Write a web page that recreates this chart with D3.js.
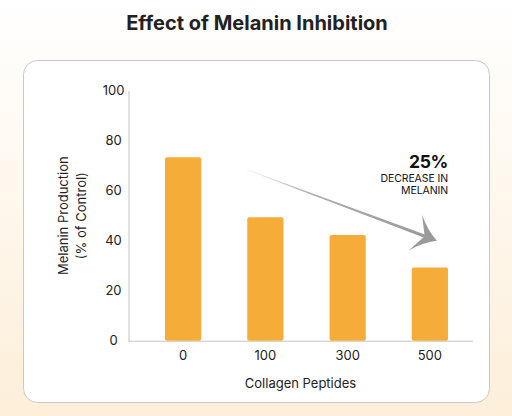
<!DOCTYPE html>
<html>
<head>
<meta charset="utf-8">
<script src="https://cdn.jsdelivr.net/npm/d3@7"></script>
<style>
  html, body { margin: 0; padding: 0; }
  body { width: 512px; height: 416px; overflow: hidden; font-family: Inter, "Noto Sans", sans-serif; }
</style>
</head>
<body>
<div id="chart"></div>
<script>
const doses = ["0", "100", "300", "500"];
const melanin = [73.4, 49.4, 42.3, 29.3];
const yTicks = [0, 20, 40, 60, 80, 100];
const title = "Effect of Melanin Inhibition";
const xTitle = "Collagen Peptides";
const yTitle = ["Melanin Production", "(% of Control)"];
const note = ["25%", "DECREASE IN", "MELANIN"];

const w = 512;
const h = 416;

const svg = d3.select("#chart")
  .append("svg")
  .attr("width", w)
  .attr("height", h);

const defs = svg.append("defs");

// page background fades to cream at the bottom
const bg = defs.append("linearGradient")
  .attr("id", "bg")
  .attr("x1", 0).attr("y1", 0).attr("x2", 0).attr("y2", 1);
bg.append("stop").attr("offset", "0%").attr("stop-color", "#ffffff");
bg.append("stop").attr("offset", "100%").attr("stop-color", "#fdefd9");

const fade = defs.append("linearGradient")
  .attr("id", "fade")
  .attr("gradientUnits", "userSpaceOnUse");

svg.append("rect")
  .attr("width", w)
  .attr("height", h)
  .attr("fill", "url(#bg)");

svg.append("rect")
  .attr("x", 23.5)
  .attr("y", 60.5)
  .attr("width", 466)
  .attr("height", 342)
  .attr("rx", 14)
  .attr("fill", "#ffffff")
  .attr("stroke", "#c9c9c9");

svg.append("text")
  .attr("x", 257)
  .attr("y", 30)
  .attr("text-anchor", "middle")
  .attr("font-size", 20)
  .attr("font-weight", 700)
  .attr("fill", "#222")
  .text(title);

const xScale = d3.scaleBand()
  .domain(doses)
  .range([142, 471])
  .paddingInner(0.56)
  .paddingOuter(0.28);

const yScale = d3.scaleLinear()
  .domain([0, 100])
  .range([340.7, 90.7]);

// axes
const yAxis = d3.axisLeft(yScale).tickValues(yTicks).tickSize(0).tickPadding(15);
svg.append("g")
  .attr("transform", "translate(128.5,0)")
  .call(yAxis)
  .call(g => g.select(".domain").attr("stroke", "#c4c4c4"))
  .call(g => g.selectAll("text")
    .attr("text-anchor", "middle")
    .attr("dx", 0)
    .attr("x", -15)
    .attr("font-size", 13)
    .attr("font-family", "Inter, sans-serif")
    .attr("fill", "#222"));

svg.append("line")
  .attr("x1", 128.5)
  .attr("x2", 473)
  .attr("y1", yScale(0) + 0.5)
  .attr("y2", yScale(0) + 0.5)
  .attr("stroke", "#c4c4c4");

const xAxis = d3.axisBottom(xScale).tickSize(0).tickPadding(10);
svg.append("g")
  .attr("transform", `translate(0, ${yScale(0)})`)
  .call(xAxis)
  .call(g => g.select(".domain").remove())
  .call(g => g.selectAll("text")
    .attr("font-size", 13)
    .attr("font-family", "Inter, sans-serif")
    .attr("fill", "#222"));

// bars
svg.selectAll(".bar")
  .data(melanin)
  .enter()
  .append("rect")
  .attr("class", "bar")
  .attr("x", (d, i) => xScale(doses[i]))
  .attr("y", d => yScale(d))
  .attr("width", xScale.bandwidth())
  .attr("height", d => yScale(0) - yScale(d))
  .attr("rx", 2)
  .attr("fill", "#f5ac38");

// axis titles
svg.append("text")
  .attr("x", 300.5)
  .attr("y", 388)
  .attr("text-anchor", "middle")
  .attr("font-size", 13)
  .attr("fill", "#222")
  .text(xTitle);

svg.append("text")
  .attr("transform", `translate(68, ${yScale(50)}) rotate(-90)`)
  .attr("text-anchor", "middle")
  .attr("font-size", 13)
  .attr("fill", "#222")
  .selectAll("tspan")
  .data(yTitle)
  .enter()
  .append("tspan")
  .attr("x", 0)
  .attr("dy", (d, i) => i === 0 ? 0 : 17.5)
  .text(d => d);

// trend arrow from the first bar down to the last
const x0 = xScale(doses[0]) + xScale.bandwidth() + 31;
const y0 = yScale(70.6);
const x1 = xScale(doses[3]) + xScale.bandwidth() / 2 + 7;
const y1 = yScale(40);
const ang = Math.atan2(y1 - y0, x1 - x0);
const ux = Math.cos(ang), uy = Math.sin(ang);
const nx = -uy, ny = ux;
const pt = (a, b) => [x1 + ux * a + nx * b, y1 + uy * a + ny * b];

const notch = pt(-13, 0);
fade.attr("x1", x0).attr("y1", y0).attr("x2", notch[0]).attr("y2", notch[1]);
fade.append("stop").attr("offset", "0%").attr("stop-color", "#9a9a9a").attr("stop-opacity", 0);
fade.append("stop").attr("offset", "40%").attr("stop-color", "#9a9a9a").attr("stop-opacity", 0.8);
fade.append("stop").attr("offset", "100%").attr("stop-color", "#9a9a9a").attr("stop-opacity", 1);

const s0 = pt(-205, 0.3), s1 = pt(-205, -0.3);
const e0 = pt(-12, 1.6), e1 = pt(-12, -1.6);
svg.append("path")
  .attr("d", `M${s0} L${e0} L${e1} L${s1} Z`)
  .attr("fill", "url(#fade)");

// swept arrow head with concave sides
const tip = pt(0, 0);
const barbA = pt(-23, 19), barbB = pt(-23, -19);
const cA = pt(-12, 6), cB = pt(-12, -6);
svg.append("path")
  .attr("d", `M${tip} Q${cA} ${barbA} L${notch} L${barbB} Q${cB} ${tip} Z`)
  .attr("fill", "#9a9a9a");

// annotation
const noteG = svg.append("g")
  .attr("text-anchor", "end")
  .attr("fill", "#111");
noteG.append("text")
  .attr("x", 448)
  .attr("y", 168)
  .attr("font-size", 17.5)
  .attr("font-weight", 700)
  .attr("letter-spacing", -0.3)
  .text(note[0]);
noteG.append("text")
  .attr("x", 448)
  .attr("y", 181.5)
  .attr("font-size", 10.5)
  .attr("letter-spacing", -0.1)
  .text(note[1]);
noteG.append("text")
  .attr("x", 448)
  .attr("y", 194)
  .attr("font-size", 10.5)
  .attr("letter-spacing", -0.1)
  .text(note[2]);
</script>
</body>
</html>
